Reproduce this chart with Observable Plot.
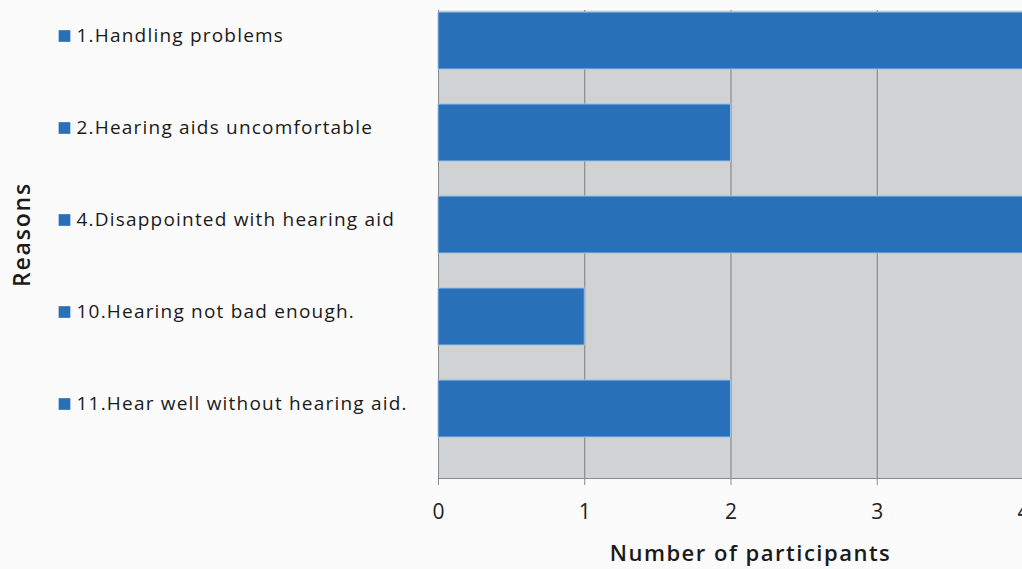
<!DOCTYPE html>
<html>
<head>
<meta charset="utf-8">
<script src="https://cdn.jsdelivr.net/npm/d3@7"></script>
<script src="https://cdn.jsdelivr.net/npm/@observablehq/plot@0.6"></script>
<style>
  html, body { margin: 0; padding: 0; background: #fbfbfb; }
  #chart svg { display: block; }
</style>
</head>
<body>
<div id="chart"></div>
<script>
// Reasons for not using hearing aids, and how many participants gave each
const reasons = [
  "1.Handling problems",
  "2.Hearing aids uncomfortable",
  "4.Disappointed with hearing aid",
  "10.Hearing not bad enough.",
  "11.Hear well without hearing aid."
];
const participants = [4, 2, 4, 1, 2];
const xTicks = [0, 1, 2, 3, 4];
const gridTicks = [1, 2, 3];
const xTitle = "Number of participants";
const yTitle = "Reasons";

const rows = reasons.map((reason, i) => ({reason, n: participants[i]}));

const blue = "#2870b8";
const font = "'Open Sans', Lato, sans-serif";

const chart = Plot.plot({
  width: 1022,
  height: 569,
  marginLeft: 438,
  marginRight: 0,
  marginTop: 10,
  marginBottom: 91,
  style: {background: "#fbfbfb", fontFamily: font, color: "#222"},
  x: {domain: [0, 4], range: [438, 1023]},
  y: {domain: reasons, range: [10, 440], paddingInner: 0.376, paddingOuter: 0, axis: null},
  marks: [
    Plot.frame({fill: "#d0d2d4", stroke: null}),
    Plot.gridX(gridTicks, {stroke: "#7d7d7d", strokeOpacity: 1, strokeWidth: 1}),
    Plot.ruleX([0], {stroke: "#8a8a8a"}),
    Plot.frame({anchor: "bottom", stroke: "#8a8a8a"}),
    Plot.barX(rows, {
      x: "n", y: "reason", fill: blue,
      stroke: "#9cc2e8", strokeWidth: 1
    }),
    // tick marks below the axis, with their numbers
    Plot.axisX(xTicks, {tickSize: 7, stroke: "#8a8a8a", text: null, label: null}),
    Plot.text(xTicks, {
      x: d => d, text: d => String(d), frameAnchor: "bottom", dy: 34,
      lineAnchor: "middle", fontSize: 21, fill: "#222"
    }),
    // category labels with a small colour key, left of the plot
    Plot.dot(rows, {
      y: "reason", frameAnchor: "left", dx: -374, dy: -5,
      symbol: "square", r: 6.6, fill: blue
    }),
    Plot.text(rows, {
      y: "reason", text: "reason", frameAnchor: "left", dx: -362, dy: -5,
      textAnchor: "start", fontSize: 19, fill: "#1a1a1a"
    }),
    Plot.text([xTitle], {
      frameAnchor: "bottom", dx: 20, dy: 75, lineAnchor: "middle",
      fontSize: 22, fontWeight: 600, fill: "#1a1a1a"
    }),
    Plot.text([yTitle], {
      frameAnchor: "left", dx: -416, dy: -10, rotate: -90, textAnchor: "middle",
      fontSize: 23, fontWeight: 600, fill: "#1a1a1a"
    })
  ]
});

// widen the letter spacing of the labels and titles
const spacing = new Map([...reasons.map(r => [r, 1.2]), [xTitle, 1.5], [yTitle, 1.8]]);
d3.select(chart).selectAll("text")
  .filter(function() { return spacing.has(this.textContent); })
  .attr("letter-spacing", function() { return spacing.get(this.textContent); });

document.getElementById("chart").append(chart);
</script>
</body>
</html>
